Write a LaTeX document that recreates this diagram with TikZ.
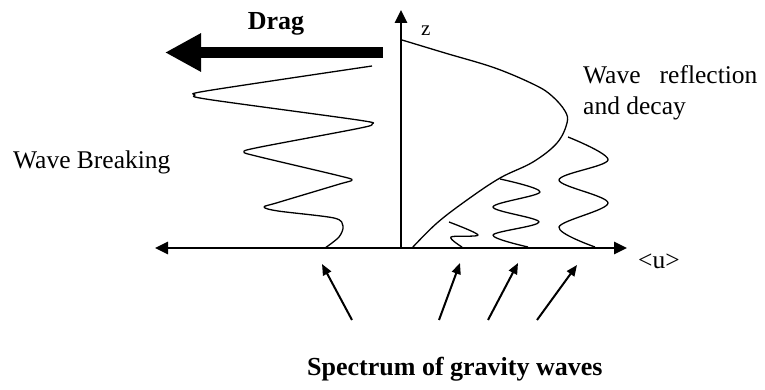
\documentclass[tikz,border=0pt]{standalone}
\usepackage{fontspec}
\setmainfont{Liberation Serif}
\usetikzlibrary{arrows.meta}
\begin{document}
\begin{tikzpicture}[x=1pt,y=-1pt,
  axisline/.style={line width=2.6pt},
  axhead/.style={-{Triangle[length=13pt,width=12pt]}},
  wave/.style={line width=1.3pt,line join=round},
  uparrow/.style={line width=2pt,-{Triangle[length=11pt,width=9pt]}},
  lbl/.style={anchor=base west,inner sep=0pt,font=\fontsize{25.5}{28}\selectfont},
  blbl/.style={anchor=base west,inner sep=0pt,font=\fontsize{26}{30}\selectfont\bfseries}]
\useasboundingbox (0,0) rectangle (765,390);
% axes
\coordinate (O) at (401,248);
\coordinate (Xl) at (155,248);
\coordinate (Xr) at (627,248);
\coordinate (Zt) at (401,10);
\draw[axisline,{Triangle[length=13pt,width=12pt]}-{Triangle[length=13pt,width=12pt]}] (Xl) -- (Xr);
\draw[axisline,axhead] (O) -- (Zt);
% drag arrow
\coordinate (Ds) at (383,52.5);
\coordinate (De) at (165,52.5);
\draw[line width=11.5pt,-{Triangle[length=36pt,width=36pt]}] (Ds) -- (De);
% wave breaking (left)
\draw[wave] plot[smooth,tension=0.5] coordinates {(372,66) (209,90.5) (195,95) (209,99.5) (358,120) (372,124) (358,128.5) (258,147.5) (244,152) (258,156.5) (338,175.5) (352,180) (338,184.5) (278,202.5) (264,207) (278,211) (334,218) (343,226) (339,237) (325,248)};
% mean wind profile
\draw[wave] plot[smooth,tension=0.6] coordinates {(402,40) (445,53) (495,68) (535,85) (552,96) (565,111) (567,123) (557,143) (533,162) (500,178) (467,200) (437,223) (412,248)};
% right waves
\draw[wave] plot[smooth,tension=0.55] coordinates {(449,222) (478,235) (451,237) (462,247)};
\draw[wave] plot[smooth,tension=0.55] coordinates {(500,179) (540,192) (493,207) (539,222) (493,235) (528,247)};
\draw[wave] plot[smooth,tension=0.55] coordinates {(568,137) (608,160) (559,180) (608,203) (559,227) (595,247)};
% upward arrows
\coordinate (a1s) at (352,320); \coordinate (a1e) at (322,264);
\coordinate (a2s) at (439,320); \coordinate (a2e) at (460,263);
\coordinate (a3s) at (488,320); \coordinate (a3e) at (518,263);
\coordinate (a4s) at (537,320); \coordinate (a4e) at (577,265);
\draw[uparrow] (a1s) -- (a1e);
\draw[uparrow] (a2s) -- (a2e);
\draw[uparrow] (a3s) -- (a3e);
\draw[uparrow] (a4s) -- (a4e);
% labels
\node[blbl,anchor=base] (drag) at (276,30) {Drag};
\node[blbl] (spec) at (307,375) {Spectrum of gravity waves};
\node[lbl] (wb) at (13,168) {Wave Breaking};
\node[lbl] (wr) at (583,84) {Wave\hspace{0.75em}reflection};
\node[lbl] (ad) at (583,115) {and decay};
\node[lbl,font=\fontsize{21}{24}\selectfont] (z) at (421,36) {z};
\node[lbl] (u) at (638,268) {<u>};
\end{tikzpicture}
\end{document}
